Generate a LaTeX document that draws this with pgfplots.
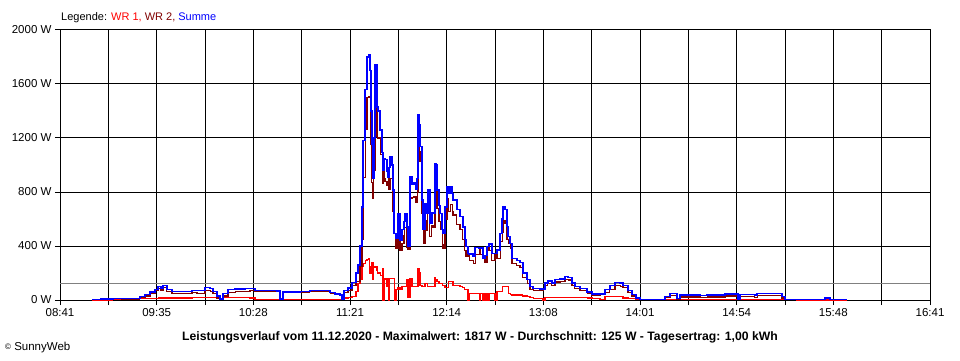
\documentclass[border=0pt]{standalone}
\usepackage{pgfplots}
\usepackage{pgfplotstable}
\pgfplotsset{compat=1.18}
\usepackage{fontspec}
\setmainfont{Liberation Sans}
\definecolor{wrone}{RGB}{255,0,0}
\definecolor{wrtwo}{RGB}{128,0,0}
\definecolor{summe}{RGB}{0,0,255}
\definecolor{avg}{RGB}{128,128,128}

% t = minutes after 08:41
\pgfplotstableread{
t wr1 wr2 sum
17.7 0 3 3
22.6 0 7 7
29.2 2 10 12
34.2 3 7 10
41.4 5 7 12
44.1 8 17 25
46.9 10 30 40
49.7 12 48 60
52.4 12 68 80
54.1 15 85 100
55.7 15 70 85
56.8 15 90 105
59.0 15 65 80
61.8 15 50 65
66.2 15 50 65
70.1 15 47 62
72.8 18 54 72
75.6 20 50 70
77.2 20 50 70
80.0 20 72 92
82.8 20 65 85
84.4 20 45 65
86.6 15 15 30
88.3 5 2 7
89.9 20 30 50
92.7 20 58 78
96.6 20 62 82
102.1 20 65 85
104.8 15 69 84
107.6 5 63 68
115.9 5 63 68
119.7 5 61 66
121.4 3 4 7
123.0 5 55 60
132.4 5 57 62
137.9 5 67 72
143.4 5 65 70
149.0 5 50 55
151.7 5 40 45
154.5 5 32 37
155.6 3 4 7
156.7 15 55 70
158.9 20 70 90
161.1 25 105 130
163.3 60 140 200
164.4 120 140 260
165.5 150 250 400
166.6 245 445 690
167.2 270 910 1180
168.3 295 1265 1560
169.4 300 1500 1800
170.5 310 1507 1817
171.0 200 1500 1700
171.6 250 1150 1400
172.1 280 870 1150
172.7 150 750 900
173.2 240 960 1200
173.8 245 1495 1740
174.9 220 1210 1430
175.4 200 1200 1400
176.6 180 1080 1260
177.7 230 860 1090
178.2 0 960 960
178.8 150 900 1050
179.3 160 880 1040
180.4 100 850 950
181.0 0 910 910
181.5 160 820 980
182.1 160 900 1060
183.2 160 840 1000
183.7 160 655 815
184.3 0 495 495
185.4 80 380 460
186.5 90 550 640
187.6 80 365 445
188.7 100 420 520
189.8 100 480 580
190.3 100 540 640
191.4 150 390 540
192.0 20 375 395
193.1 160 750 910
194.2 100 760 860
195.3 100 770 870
196.4 100 720 820
197.0 100 800 900
197.5 235 1135 1370
198.1 200 1100 1300
198.6 110 1025 1135
199.7 100 640 740
200.3 100 420 520
201.4 125 590 715
202.5 125 515 640
203.0 100 715 815
204.1 100 470 570
205.2 100 550 650
205.8 100 540 640
206.9 170 840 1010
207.4 150 850 1000
208.0 135 680 815
209.1 120 580 700
209.7 120 520 640
210.8 110 410 520
211.3 110 385 495
212.4 90 600 690
213.5 90 750 840
214.1 135 655 790
215.2 135 705 840
216.3 135 655 790
216.8 110 630 740
219.0 110 560 670
220.7 100 520 620
222.3 90 450 540
223.4 80 370 450
224.0 75 320 395
225.1 0 345 345
225.7 50 290 340
227.9 50 270 320
229.0 50 340 390
231.2 0 385 385
231.7 50 335 385
233.4 0 310 310
234.5 50 280 330
235.6 0 395 395
236.7 50 370 420
237.2 50 365 415
238.3 50 295 345
240.0 0 345 345
241.1 60 310 370
242.8 60 435 495
243.9 100 500 600
244.4 100 590 690
245.5 100 570 670
246.6 100 445 545
247.2 50 420 470
248.3 40 380 420
249.4 37 273 310
252.1 37 258 295
253.8 37 243 280
255.4 30 170 200
257.7 25 125 150
259.3 20 80 100
261.0 12 73 85
264.8 12 70 82
266.5 0 80 80
267.6 17 108 125
269.2 17 123 140
271.4 17 108 125
273.1 17 133 150
275.9 17 138 155
278.6 17 155 172
280.3 17 148 165
282.5 17 108 125
284.1 17 83 100
286.9 17 68 85
290.8 15 45 60
293.5 10 34 44
297.9 5 39 44
300.7 25 55 80
303.4 25 80 105
306.2 25 105 130
309.0 25 100 125
310.6 15 90 105
313.4 12 58 70
315.6 10 30 40
317.8 5 10 15
320.0 2 3 5
332.7 2 3 5
333.8 5 20 25
336.6 6 36 50
339.3 6 36 50
340.4 5 5 10
342.1 6 22 37
351.4 6 22 37
353.1 6 18 33
357.0 6 22 37
365.8 6 22 37
366.9 6 30 44
373.5 6 30 44
374.1 3 2 5
375.2 6 26 40
381.8 6 26 40
383.4 6 20 33
384.6 6 36 50
395.6 6 36 50
398.3 5 15 25
400.0 2 3 5
406.6 0 5 5
408.3 0 3 3
421.0 0 5 5
422.1 0 15 15
424.8 0 5 5
434.2 0 5 5
}\datatable

\begin{document}
\begin{tikzpicture}[x=1bp,y=1bp]
\useasboundingbox (0,0) rectangle (960,360);
\begin{axis}[
  at={(60bp,60bp)}, anchor=south west,
  scale only axis, width=870bp, height=270bp,
  xmin=0, xmax=480, ymin=0, ymax=2000,
  xtick={0,26.6667,53.3333,80,106.6667,133.3333,160,186.6667,213.3333,240,266.6667,293.3333,320,346.6667,373.3333,400,426.6667,453.3333,480},
  xticklabels={08:41,,09:35,,10:28,,11:21,,12:14,,13:08,,14:01,,14:54,,15:48,,16:41},
  ytick={0,400,800,1200,1600,2000},
  yticklabels={0 W,400 W,800 W,1200 W,1600 W,2000 W},
  /pgf/number format/assume math mode=true,
  grid=major,
  major grid style={black, line width=1bp},
  axis line style={black, line width=1bp},
  every tick/.style={black, line width=1bp},
  tick align=outside, tick pos=left, major tick length=5bp,
  ticklabel style={font=\fontsize{11.5bp}{13bp}\selectfont},
  clip=false,
]
\addplot[avg, line width=1bp, forget plot] coordinates {(0,125) (480,125)};
\addplot[const plot, wrone, line width=1.1bp] table[x=t, y=wr1] {\datatable};
\addplot[const plot, wrtwo, line width=1.1bp] table[x=t, y=wr2] {\datatable};
\addplot[const plot, summe, line width=1.3bp] table[x=t, y=sum] {\datatable};
\end{axis}
\node[anchor=west, font=\fontsize{11bp}{13bp}\selectfont, inner sep=0pt] at (61,342.5)
  {Legende: \textcolor{wrone}{WR 1,} \textcolor{wrtwo}{WR 2,} \textcolor{summe}{Summe}};
\node[font=\fontsize{12.2bp}{14bp}\selectfont\bfseries, inner sep=0pt] at (480,23)
  {Leistungsverlauf vom 11.12.2020 - Maximalwert: 1817 W - Durchschnitt: 125 W - Tagesertrag: 1,00 kWh};
\node[anchor=west, font=\fontsize{11.5bp}{13bp}\selectfont, inner sep=0pt] at (5,12)
  {\raisebox{0.2ex}{\fontsize{8bp}{9bp}\selectfont\textcopyright}\ SunnyWeb};
\end{tikzpicture}
\end{document}
